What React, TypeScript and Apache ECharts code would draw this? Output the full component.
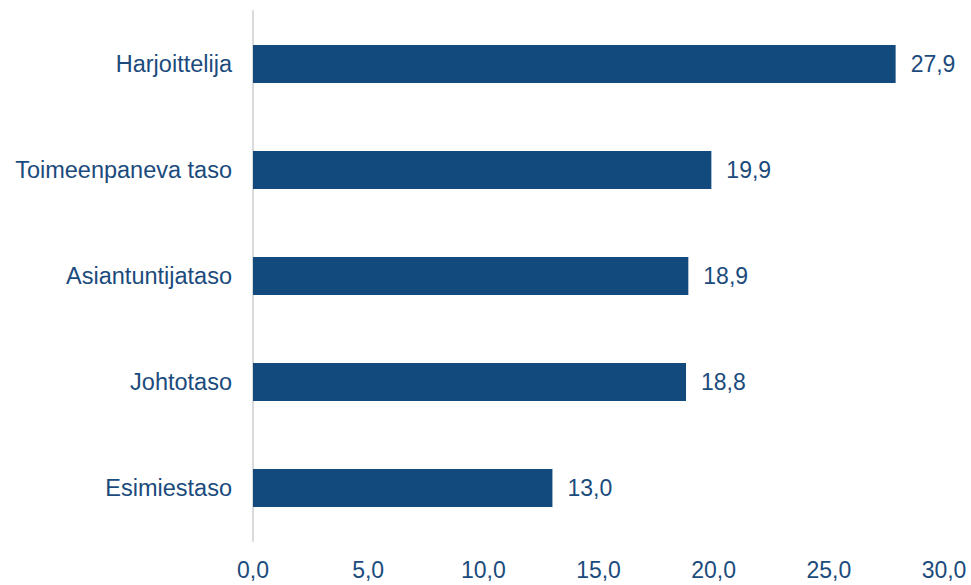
import React, { useEffect, useRef } from "react";
import * as echarts from "echarts";

const categories = ["Esimiestaso", "Johtotaso", "Asiantuntijataso", "Toimeenpaneva taso", "Harjoittelija"];
const values = [13.0, 18.8, 18.9, 19.9, 27.9];

const textColor = "#1B4B7C";
const barColor = "#124A7E";
const font = "'Liberation Sans', Arial, sans-serif";
const fmt = (v: number) => v.toFixed(1).replace(".", ",");

export default function App() {
  const ref = useRef<HTMLDivElement>(null);
  useEffect(() => {
    const chart = echarts.init(ref.current!, null, { renderer: "svg" });
    chart.setOption({
      animation: false,
      grid: { left: 253, right: 27, top: 11, bottom: 44, containLabel: false },
      xAxis: {
        type: "value",
        min: 0,
        max: 30,
        interval: 5,
        axisLine: { show: false },
        axisTick: { show: false },
        splitLine: { show: false },
        axisLabel: {
          formatter: (v: number) => fmt(v),
          color: textColor,
          fontFamily: font,
          fontSize: 23,
          margin: 17,
        },
      },
      yAxis: {
        type: "category",
        data: categories,
        axisLine: { show: true, lineStyle: { color: "#D9D9D9", width: 2 } },
        axisTick: { show: false },
        axisLabel: {
          color: textColor,
          fontFamily: font,
          fontSize: 23.5,
          margin: 21,
        },
      },
      series: [
        {
          type: "bar",
          data: values,
          barWidth: 38,
          itemStyle: { color: barColor },
          label: {
            show: true,
            position: "right",
            distance: 15,
            formatter: (p: any) => fmt(p.value),
            color: textColor,
            fontFamily: font,
            fontSize: 23,
          },
        },
      ],
    });
    return () => chart.dispose();
  }, []);
  return <div ref={ref} style={{ width: 971, height: 585, position: "absolute", left: 0, top: 0 }} />;
}
